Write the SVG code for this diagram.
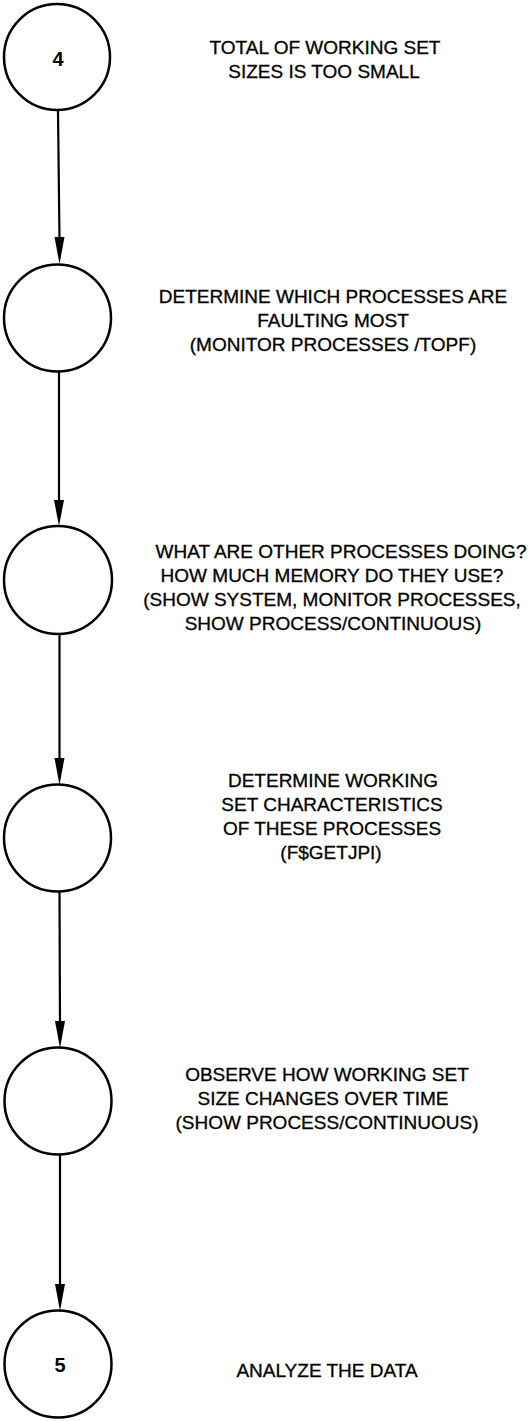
<svg xmlns="http://www.w3.org/2000/svg" width="529" height="1421" viewBox="0 0 529 1421">
<style>
.node circle{fill:none;stroke:#000;stroke-width:2.5}
.num{font-family:"Liberation Sans",Arial,sans-serif;font-size:20px;font-weight:bold;text-anchor:middle;fill:#000}
.lbl{font-family:"Liberation Sans",Arial,sans-serif;font-size:19px;text-anchor:middle;fill:#000;stroke:#000;stroke-width:0.3}
.edge{stroke:#000;stroke-width:2.2;fill:none}
.head{fill:#000}
</style>
<rect width="529" height="1421" fill="#fff"/>
<g id="connectors">
<line class="edge" x1="58" y1="111" x2="59.5" y2="240"/>
<polygon class="head" points="54.5,237 64.5,237 59.5,264"/>
<line class="edge" x1="59" y1="372" x2="59" y2="505"/>
<polygon class="head" points="54,500 64,500 59,526"/>
<line class="edge" x1="59.5" y1="634" x2="59.5" y2="762"/>
<polygon class="head" points="54.5,758 64.5,758 59.5,785"/>
<line class="edge" x1="59.5" y1="892" x2="60" y2="1025"/>
<polygon class="head" points="55,1021 65,1021 60,1048"/>
<line class="edge" x1="60" y1="1154" x2="60" y2="1288"/>
<polygon class="head" points="55,1284 65,1284 60,1311"/>
</g>
<g id="n1" class="node">
<circle cx="57" cy="57" r="53"/>
<text class="num" x="58" y="66">4</text>
<text class="lbl" x="325" y="54"><tspan x="325">TOTAL OF WORKING SET</tspan><tspan x="324" dy="24">SIZES IS TOO SMALL</tspan></text>
</g>
<g id="n2" class="node">
<circle cx="57.5" cy="318" r="53.5"/>
<text class="lbl" x="333" y="303"><tspan x="333">DETERMINE WHICH PROCESSES ARE</tspan><tspan x="333" dy="24">FAULTING MOST</tspan><tspan x="333" dy="24">(MONITOR PROCESSES /TOPF)</tspan></text>
</g>
<g id="n3" class="node">
<circle cx="58" cy="580" r="54"/>
<text class="lbl" x="341" y="558"><tspan x="341">WHAT ARE OTHER PROCESSES DOING?</tspan><tspan x="332" dy="24">HOW MUCH MEMORY DO THEY USE?</tspan><tspan x="332" dy="24">(SHOW SYSTEM, MONITOR PROCESSES,</tspan><tspan x="333" dy="24">SHOW PROCESS/CONTINUOUS)</tspan></text>
</g>
<g id="n4" class="node">
<circle cx="57.5" cy="838" r="53.5"/>
<text class="lbl" x="333" y="787"><tspan x="333">DETERMINE WORKING</tspan><tspan x="332" dy="24">SET CHARACTERISTICS</tspan><tspan x="332" dy="24">OF THESE PROCESSES</tspan><tspan x="331" dy="24">(F$GETJPI)</tspan></text>
</g>
<g id="n5" class="node">
<circle cx="58" cy="1101" r="53.5"/>
<text class="lbl" x="327" y="1081"><tspan x="327">OBSERVE HOW WORKING SET</tspan><tspan x="323" dy="24">SIZE CHANGES OVER TIME</tspan><tspan x="327" dy="24">(SHOW PROCESS/CONTINUOUS)</tspan></text>
</g>
<g id="n6" class="node">
<circle cx="58" cy="1364" r="53.5"/>
<text class="num" x="60" y="1372">5</text>
<text class="lbl" x="327" y="1377">ANALYZE THE DATA</text>
</g>
</svg>
